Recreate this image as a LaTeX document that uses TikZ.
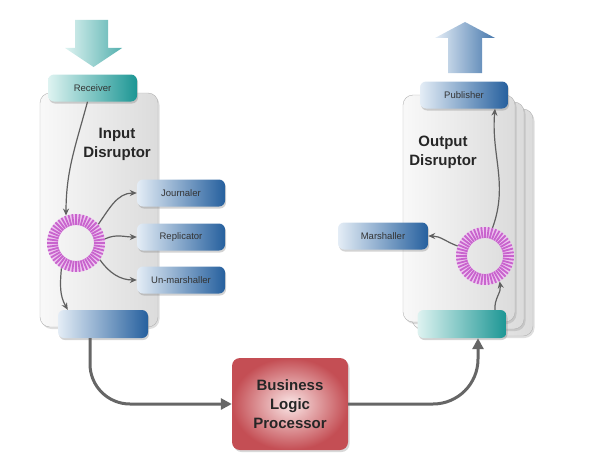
\documentclass[tikz,border=0pt]{standalone}
\usepackage{fontspec}
\setmainfont{Liberation Sans}
\usetikzlibrary{arrows.meta,positioning,calc,shadows}
\definecolor{boxdark}{RGB}{38,96,158}
\definecolor{boxlight}{RGB}{228,237,246}
\definecolor{tealdark}{RGB}{28,150,148}
\definecolor{teallight}{RGB}{222,243,241}
\definecolor{reddark}{RGB}{196,78,84}
\definecolor{redlight}{RGB}{250,230,230}
\definecolor{ringtickc}{RGB}{200,100,205}
\definecolor{ringbg}{RGB}{238,196,240}

\begin{document}
\begin{tikzpicture}[x=1pt, y=1pt,
    panel/.style={rectangle, draw=gray!60, left color=gray!5, right color=gray!28, minimum width=112pt, minimum height=227pt, rounded corners=10pt, drop shadow={opacity=0.25, shadow xshift=1.5pt, shadow yshift=-2pt}},
    bluebox/.style={rectangle, left color=boxlight, right color=boxdark, minimum width=88pt, minimum height=27pt, rounded corners=6pt, font=\fontsize{9.5}{11}\selectfont, text=black!80, drop shadow={opacity=0.35, shadow xshift=1pt, shadow yshift=-2pt}},
    tealbox/.style={bluebox, left color=teallight, right color=tealdark},
    heading/.style={font=\bfseries\fontsize{15}{19}\selectfont, align=center, text=black!85},
    procbox/.style={rectangle, inner color=redlight, outer color=reddark, minimum width=116pt, minimum height=92pt, rounded corners=8pt, heading, drop shadow={opacity=0.3, shadow xshift=1.5pt, shadow yshift=-2pt}},
    ringnode/.style={circle, minimum size=58pt, inner sep=0pt},
    link/.style={-{Stealth[length=7pt,width=6pt]}, gray!75!black, line width=1.2pt},
    flow/.style={-{Triangle[length=11pt,width=11pt]}, gray!80!black, line width=3pt}
]
    \useasboundingbox (0,0) rectangle (593,459);

    % Input disruptor
    \shade[left color=teallight, right color=tealdark!75] (75,439) -- (108,439) -- (108,411) -- (122,411) -- (93.5,392) -- (65,411) -- (75,411) -- cycle;
    \node[panel, minimum width=118pt, minimum height=234pt] (inpanel) at (99,249) {};
    \node[tealbox, minimum width=89pt] (recv) at (92.5,371) {Receiver};
    \node[heading] (intitle) at (117,315) {Input\\Disruptor};
    \node[ringnode] (ring_in) at (76,216) {};
    \node[bluebox] (journ) at (181,266) {Journaler};
    \node[bluebox] (repl) at (181,222) {Replicator};
    \node[bluebox] (unmar) at (181,179) {Un-marshaller};
    \node[bluebox, minimum width=90pt, minimum height=28pt] (inout) at (103,135) {};

    % Output disruptor
    \shade[left color=boxlight, right color=boxdark!85] (448,386) -- (482,386) -- (482,421) -- (495,421) -- (465,437) -- (435,421) -- (448,421) -- cycle;
    \node[panel] (outback2) at (477,236.5) {};
    \node[panel] (outback1) at (468,243.5) {};
    \node[panel] (outpanel) at (459,250.5) {};
    \node[bluebox] (pub) at (464,364) {Publisher};
    \node[heading] (outtitle) at (443,307) {Output\\Disruptor};
    \node[ringnode] (ring_out) at (485,203) {};
    \node[bluebox, minimum width=90pt] (marsh) at (383,223) {Marshaller};
    \node[tealbox, minimum width=89pt, minimum height=28pt] (outin) at (462,135) {};

    % Ring buffers
    \foreach \rg in {ring_in, ring_out} {
        \draw[ringbg, line width=11pt] (\rg) circle (23.5pt);
        \foreach \a in {0,7.5,...,352.5}
            \draw[ringtickc, line width=1.8pt] ([shift={(\a:18)}]\rg.center) -- ([shift={(\a:29)}]\rg.center);
    }

    % Business logic
    \node[procbox] (blp) at (290,55) {Business\\Logic\\Processor};

    % Arrows - inside the disruptors
    \draw[link] ([xshift=-5pt]recv.south) to[out=-105, in=90] (ring_in.110);
    \draw[link] (ring_in.40) to[out=55, in=180] (journ.west);
    \draw[link] (ring_in.8) to[out=25, in=180] (repl.west);
    \draw[link] (ring_in.-35) to[out=-55, in=180] (unmar.west);
    \draw[link] (ring_in.-120) to[out=-95, in=120] ([xshift=10pt]inout.north west);
    \draw[link] ([xshift=33pt]outin.north) to[out=95, in=-80] (ring_out.-60);
    \draw[link] (ring_out.75) to[out=70, in=-95] ([xshift=31pt]pub.south);
    \draw[link] (ring_out.160) to[out=160, in=0] (marsh.east);

    % Arrows - main flow
    \draw[flow, rounded corners=40pt] ([xshift=-13pt]inout.south) |- (blp.west);
    \draw[flow, rounded corners=45pt] (blp.east) -| ([xshift=16pt]outin.south);
\end{tikzpicture}
\end{document}
